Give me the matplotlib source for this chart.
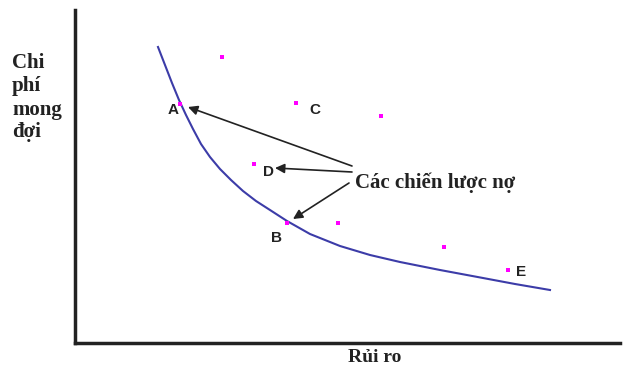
import matplotlib
matplotlib.use("Agg")
import matplotlib.pyplot as plt

# efficient frontier curve (risk, expected cost)
curve_x = [83, 90, 97, 104, 111, 118, 126, 135, 145, 156, 168, 181, 195, 212,
           235, 265, 295, 325, 365, 408, 440, 475]
curve_y = [296, 278, 260, 243, 228, 214, 199, 186, 174, 163, 152, 142, 133, 122,
           109, 97, 88, 81, 73, 65, 59, 53]

# debt strategies
pts_x = [147, 105, 221, 306, 179, 212, 263, 369, 433]
pts_y = [286, 239, 240, 227, 179, 120, 120, 96, 73]

labels = ["A", "C", "D", "B", "E"]
lab_x = [98, 240, 194, 201, 446]
lab_y = [233, 233, 171, 105, 71]

arrow_from = [(277, 177), (277, 171), (274, 160)]
arrow_to = [(113, 236), (200, 175), (218, 124)]

fig = plt.figure(figsize=(6.27, 3.70), dpi=100)
ax = fig.add_axes([75 / 627, 27 / 370, 545 / 627, 333 / 370])
ax.set_xlim(0, 545)
ax.set_ylim(0, 333)

ax.plot(curve_x, curve_y, color="#3c3ca8", lw=1.5)
ax.scatter(pts_x, pts_y, s=7, color="#ff00ff", marker="s", linewidths=0, zorder=3)

for t, x, y in zip(labels, lab_x, lab_y):
    ax.text(x, y, t, fontsize=11, fontweight="bold", family="Liberation Sans",
            ha="center", va="center", color="#222222")

for (x0, y0), (x1, y1) in zip(arrow_from, arrow_to):
    ax.annotate("", xy=(x1, y1), xytext=(x0, y0),
                arrowprops=dict(arrowstyle="-|>", color="#222222", lw=1.2,
                                mutation_scale=14, shrinkA=0, shrinkB=0))

ax.text(280, 160, "Các chiến lược nợ", fontsize=15, fontweight="bold",
        family="Liberation Serif", ha="left", va="center", color="#222222")

for s in ["top", "right"]:
    ax.spines[s].set_visible(False)
for s in ["left", "bottom"]:
    ax.spines[s].set_linewidth(2.5)
    ax.spines[s].set_color("#222222")
ax.set_xticks([])
ax.set_yticks([])

fig.text(12 / 627, 1 - 98 / 370, "Chi\nphí\nmong\nđợi", fontsize=15,
         fontweight="bold", family="Liberation Serif", ha="left", va="center",
         linespacing=1.2, color="#222222")
fig.text(375 / 627, 1 - 357 / 370, "Rủi ro", fontsize=14, fontweight="bold",
         family="Liberation Serif", ha="center", va="center", color="#222222")

fig.savefig("out.png", dpi=100)
